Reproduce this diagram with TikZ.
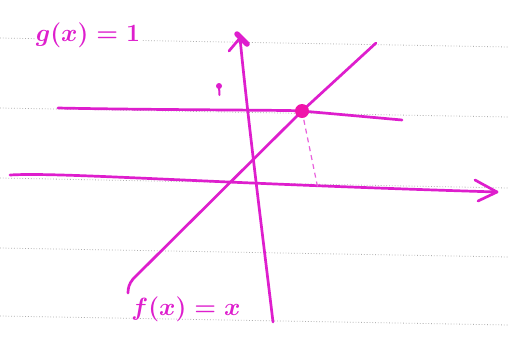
\documentclass[tikz,border=0pt]{standalone}
\usetikzlibrary{calc}
\definecolor{pen}{RGB}{222,30,205}
\definecolor{dotpink}{RGB}{240,20,170}
\definecolor{rule}{RGB}{175,175,175}
\begin{document}
\begin{tikzpicture}[x=1pt,y=-1pt,
  ruled/.style={rule,line width=0.8pt,dotted},
  penline/.style={pen,line width=2.7pt,line cap=round,line join=round},
  dashline/.style={pen!70,line width=1.2pt,dash pattern=on 5pt off 4pt},
  handtext/.style={pen,font=\fontsize{31}{34}\selectfont\boldmath,inner sep=1pt}]
\useasboundingbox (0,0) rectangle (509,349);
\fill[white] (0,0) rectangle (509,349);
% ruled paper
\foreach \a/\b in {38/47,108/117,178/188,248/257,316/325}
  \draw[ruled] (0,\a) -- (509,\b);
% coordinates
\coordinate (xL) at (10,175);
\coordinate (xR) at (497,192);
\coordinate (gL) at (58,108);
\coordinate (gR) at (402,120);
\coordinate (yB) at (273,322);
\coordinate (yT) at (240,38);
\coordinate (fT) at (376,43);
\coordinate (P) at (302,111);
\coordinate (fK) at (133,279);
\coordinate (fE) at (128,293);
\coordinate (Q) at (318,189);
% labels
\node[handtext,fill=white] (glab) at (88,35) {$g(x)=1$};
\node[handtext] (flab) at (186,309) {$f(x)=x$};
% x-axis with hand arrow
\draw[penline] (xL) .. controls (60,172) and (200,183) .. (xR);
\draw[penline] ($(xR)+(-22,-12)$) -- (xR) -- ($(xR)+(-19,9)$);
% horizontal g
\draw[penline] (gL) .. controls (150,110) and (300,110) .. (P) -- (gR);
% y-axis
\draw[penline] (yB) .. controls (262,230) and (248,120) .. (yT);
\draw[penline] ($(yT)+(-11,13)$) -- (yT);
\draw[pen,line width=5.5pt,line cap=round] ($(yT)+(-3,-4)$) -- ($(yT)+(7,6)$);
% diagonal f
\draw[penline] (fT) -- (P) -- (fK) .. controls (129,284) and (128,288) .. (fE);
% dashed drop
\draw[dashline] (P) -- (Q);
% intersection dot
\fill[dotpink] (P) circle (7pt);
% small stray mark
\fill[pen] (219,86) circle (3pt);
\draw[pen,line width=2pt,line cap=round] (219,86) -- (219.5,95);
\end{tikzpicture}
\end{document}
